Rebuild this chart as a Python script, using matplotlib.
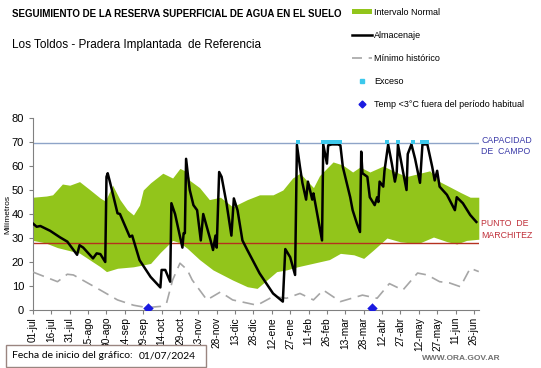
import numpy as np
import matplotlib
matplotlib.use("Agg")
import matplotlib.pyplot as plt
from matplotlib.lines import Line2D
from matplotlib.patches import Patch, Rectangle

plt.rcParams['font.family'] = ['Liberation Sans', 'DejaVu Sans']

# days counted from 01/07/2024
upper_days = [0, 11, 16, 24, 30, 38, 46, 55, 59, 65, 71, 77, 82, 87, 90, 96, 106, 114, 120, 126,
              128, 136, 144, 153, 163, 175, 185, 196, 204, 212, 218, 229, 234, 245, 253, 261, 267,
              275, 286, 294, 305, 316, 324, 332, 340, 349, 357, 364]
upper_vals = [47, 47.5, 48, 52.5, 52, 53.5, 50.3, 46.6, 45.4, 52, 46, 41.7, 39.6, 43.7, 50, 53, 57,
              55, 59, 57.5, 54, 51, 46, 47, 43, 46, 48, 48, 50, 55, 57, 51, 56, 61.7, 60.4, 57.5,
              59.6, 57.5, 60, 58, 55.6, 57, 58, 53.5, 51.4, 49, 47, 47]

lower_days = [0, 10, 20, 38, 55, 60, 69, 82, 96, 104, 114, 120, 126, 136, 147, 163, 175, 183, 191,
              199, 207, 216, 229, 242, 251, 262, 270, 278, 289, 300, 308, 316, 327, 338, 346, 354, 364]
lower_vals = [29, 28, 26, 23.7, 18, 16, 17.4, 18, 19.4, 24, 29, 28, 25.7, 21, 16.7, 12.5, 9.7, 9,
              12.5, 16, 16.7, 18, 19.5, 21, 23.6, 23, 21.5, 25, 30, 28.4, 28, 28, 30.4, 28.5, 27.5,
              29, 29.5]

min_days = [0, 20, 28, 33, 55, 69, 82, 93, 104, 109, 114, 120, 126, 130, 142, 153, 163, 183, 196,
            207, 218, 229, 237, 251, 269, 281, 291, 302, 314, 322, 332, 340, 349, 357, 364]
min_vals = [15.8, 11.8, 14.9, 14.6, 8.3, 4.2, 2, 1, 1.5, 2.8, 12.5, 19.5, 16.7, 12.5, 4.2, 7.5,
            4.2, 2, 5.6, 4.9, 6.9, 4.2, 8.3, 3.5, 6.2, 4.9, 11, 8.3, 15.4, 14.6, 11.8, 11.3, 9.7,
            17.4, 16]

alm_days = [0, 3, 6, 14, 22, 28, 36, 38, 41, 49, 52, 55, 59, 60, 61, 63, 69, 71, 79, 81, 87, 96,
            104, 105, 108, 112, 113, 116, 122, 123, 124, 125, 127, 128, 131, 134, 137, 139, 145,
            147, 149, 150, 152, 154, 158, 162, 164, 167, 171, 175, 185, 196, 204, 206, 210, 214,
            215.5, 218, 220, 223, 224.5, 228, 229, 236, 237, 240, 241, 244, 249, 251, 253, 259,
            261, 264.5, 267, 268, 269, 273, 275, 279, 281, 282, 283, 286, 287, 290, 293, 295.5,
            297, 298, 302, 305, 306, 309, 312, 316, 318, 322, 326, 328, 330, 332, 338, 344.5,
            346, 351, 357, 362]
alm_vals = [36, 34.7, 35, 33, 30.3, 28.5, 23, 27, 26, 21.5, 23.6, 23.3, 20, 55.5, 57, 53, 40.3, 40,
            30.5, 31, 20.8, 13.8, 9.4, 16.7, 16.7, 11.8, 44.5, 40, 26, 32, 32, 63, 54, 50, 43.7,
            41.6, 29, 40, 29, 25, 31, 26, 57.5, 55.5, 44.5, 31, 46.5, 41.6, 29, 25, 15.3, 6.9,
            3.5, 25.4, 22, 14.6, 68.8, 59.6, 52.9, 46, 53.5, 46, 48.6, 29, 69, 61, 68.6, 69, 69,
            68.6, 59.6, 47, 41.6, 36, 32.5, 66, 57, 55.5, 47, 43.7, 47, 45, 53.5, 51.4, 58, 69,
            61, 53.5, 57.5, 69, 58, 50, 65, 69, 63, 53, 69, 69, 59.6, 54, 58, 51.4, 48, 41.6,
            47, 44.5, 39.6, 36.7]

exceso_days = [216, 237, 239, 241, 243, 245, 247, 249, 251, 289, 298, 310, 318, 320, 322]
exceso_vals = [69.8] * len(exceso_days)

frio_days = [93.5, 277]
frio_vals = [1, 1]

capacidad = 69.5
marchitez = 28

tick_days = list(range(0, 361, 15))
tick_labels = ['01-jul', '16-jul', '31-jul', '15-ago', '30-ago', '14-sep', '29-sep', '14-oct',
               '29-oct', '13-nov', '28-nov', '13-dic', '28-dic', '12-ene', '27-ene', '11-feb',
               '26-feb', '13-mar', '28-mar', '12-abr', '27-abr', '12-may', '27-may', '11-jun',
               '26-jun']

green = '#92c51b'

fig = plt.figure(figsize=(5.41, 3.68), dpi=100)
ax = fig.add_axes([0.061, 0.1576, 0.824, 0.5217])

# normal interval band
grid = np.arange(0, 365)
up = np.interp(grid, upper_days, upper_vals)
lo = np.interp(grid, lower_days, lower_vals)
ax.fill_between(grid, lo, up, color=green, linewidth=0, zorder=1)

ax.axhline(capacidad, color='#8ea4c8', lw=1, zorder=2)
ax.axhline(marchitez, color='#b5311f', lw=1, zorder=2)

ax.plot(min_days, min_vals, color='#a6a6a6', lw=1.2, dashes=(7, 4), zorder=3)
ax.plot(alm_days, alm_vals, color='black', lw=1.8, zorder=4)
ax.scatter(exceso_days, exceso_vals, s=6, color='#3cc8ec', marker='s', zorder=5, linewidths=0)
ax.scatter(frio_days, frio_vals, s=28, color='#1a1ae0', marker='D', zorder=5, linewidths=0)

ax.set_xlim(0, 364)
ax.set_ylim(0, 80)
ax.set_yticks(range(0, 81, 10))
ax.set_xticks(tick_days)
ax.set_xticklabels(tick_labels, rotation=90, fontsize=7.3)
ax.tick_params(axis='y', labelsize=8, length=3, color='#808080')
ax.tick_params(axis='x', length=3, color='#808080', pad=2)
for s in ['top', 'right']:
    ax.spines[s].set_visible(False)
for s in ['left', 'bottom']:
    ax.spines[s].set_color('#808080')
ax.set_ylabel('Milímetros', fontsize=6, labelpad=0)

ax.text(1.005, capacidad - 1.2, 'CAPACIDAD\nDE  CAMPO', transform=ax.get_yaxis_transform(),
        fontsize=6.3, color='#3a3aa8', va='center', ha='left', linespacing=1.35)
ax.text(1.005, marchitez + 5.5, 'PUNTO  DE\nMARCHITEZ', transform=ax.get_yaxis_transform(),
        fontsize=6.3, color='#c0303a', va='center', ha='left', linespacing=1.35)

fig.text(0.022, 0.962, 'SEGUIMIENTO DE LA RESERVA SUPERFICIAL DE AGUA EN EL SUELO',
         fontsize=7, fontweight='bold', va='center')
fig.text(0.022, 0.877, 'Los Toldos - Pradera Implantada  de Referencia', fontsize=8.5, va='center')

handles = [Patch(facecolor=green, edgecolor='none'),
           Line2D([], [], color='black', lw=1.8),
           Line2D([], [], color='#a6a6a6', lw=1.2, dashes=(6, 4)),
           Line2D([], [], color='#3cc8ec', marker='s', ms=2.5, lw=0),
           Line2D([], [], color='#1a1ae0', marker='D', ms=3.5, lw=0)]
labels = ['Intervalo Normal', 'Almacenaje', 'Mínimo histórico', 'Exceso',
          'Temp <3°C fuera del período habitual']
fig.legend(handles, labels, loc='upper left', bbox_to_anchor=(0.635, 1.0), frameon=False,
           fontsize=6.5, labelspacing=1.55, handlelength=2.2, handleheight=0.5,
           handletextpad=0.3)

fig.patches.append(Rectangle((0.011, 0.004), 0.37, 0.058, transform=fig.transFigure,
                             facecolor='white', edgecolor='#9a8580', lw=1))
fig.text(0.022, 0.033, 'Fecha de inicio del gráfico:', fontsize=7.5, va='center',
         family=['Lato', 'DejaVu Sans'])
fig.text(0.257, 0.033, '01/07/2024', fontsize=7.5, va='center', family=['Lato', 'DejaVu Sans'])
fig.text(0.925, 0.027, 'WWW.ORA.GOV.AR', fontsize=6, fontweight='bold', color='#707070',
         ha='right', va='center')

fig.savefig('out.png', dpi=100)
